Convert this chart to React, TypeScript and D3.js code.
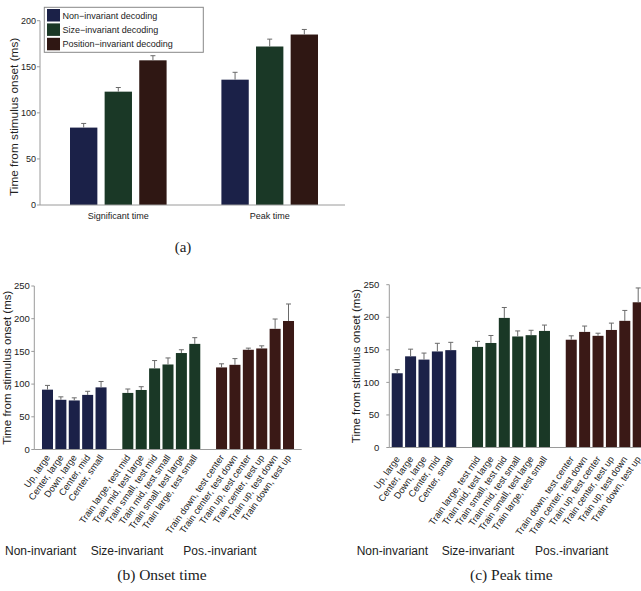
import React from "react";
import * as d3 from "d3";

// ---------- Data ----------
const seriesNames = ["Non\u2212invariant decoding", "Size\u2212invariant decoding", "Position\u2212invariant decoding"];
const seriesColors = ["#1b2148", "#1a3826", "#2f1713"];
const summaryGroups = ["Significant time", "Peak time"];
// per series: [significant, peak]
const summaryMeans = [
  [84, 136],
  [123, 172],
  [157, 185],
];
const summaryErrTops = [
  [88.5, 144],
  [127.5, 180],
  [162, 190.5],
];

const nonInvLabels = ["Up, large", "Center, large", "Down, large", "Center, mid", "Center, small"];
const sizeInvLabels = [
  "Train large, test mid",
  "Train mid, test large",
  "Train small, test mid",
  "Train mid, test small",
  "Train small, test large",
  "Train large, test small",
];
const posInvLabels = [
  "Train down, test center",
  "Train center, test down",
  "Train up, test center",
  "Train center, test up",
  "Train up, test down",
  "Train down, test up",
];
const groupNames = ["Non-invariant", "Size-invariant", "Pos.-invariant"];
const detailColors = ["#1b2148", "#1a3826", "#3a1916"];

// Onset time (b)
const onsetNon = [91.5, 76, 75, 83.5, 95];
const onsetNonErr = [98, 80.5, 79, 89, 104];
const onsetSize = [86.5, 91, 124, 130, 147.5, 161.5];
const onsetSizeErr = [92.5, 96, 136, 140, 152.5, 171];
const onsetPos = [125.5, 129.5, 152.5, 154.5, 184.5, 196.5];
const onsetPosErr = [131, 139, 155, 158.5, 199.5, 222.5];

// Peak time (c)
const peakNon = [114, 140, 135, 147.5, 149.5];
const peakNonErr = [119.5, 151, 145, 160, 161.5];
const peakSize = [154.5, 160.5, 199, 170.5, 172.5, 179];
const peakSizeErr = [163, 172, 215, 179, 180, 188];
const peakPos = [165.5, 177.5, 171.5, 180.5, 194.5, 223];
const peakPosErr = [171.5, 186.5, 175.5, 191, 210.5, 245];

const summaryTicks = [0, 50, 100, 150, 200];
const detailTicks = [0, 50, 100, 150, 200, 250];

const SANS = "'Liberation Sans', Arial, Helvetica, sans-serif";
const SERIF = "'Liberation Serif', 'Times New Roman', serif";
const AXIS = "#9a9a9a";
const ERR = "#6a6a6a";
const TXT = "#222";

// ---------- Panel (a) ----------
function SummaryPanel() {
  const y = d3.scaleLinear().domain([0, 200]).range([205, 20.7]);
  const x0 = d3.scaleBand<string>().domain(summaryGroups).range([42, 346]).paddingInner(0.362).paddingOuter(0.185);
  const x1 = d3.scaleBand<string>().domain(seriesNames).range([0, x0.bandwidth()]).paddingInner(0.21).paddingOuter(0);
  const axisX = 40;
  return (
    <g>
      {seriesNames.map((s, si) =>
        summaryGroups.map((g, gi) => {
          const bx = (x0(g) as number) + (x1(s) as number);
          const cx = bx + x1.bandwidth() / 2;
          const v = summaryMeans[si][gi];
          const e = summaryErrTops[si][gi];
          return (
            <g key={s + g}>
              <rect x={bx} y={y(v)} width={x1.bandwidth()} height={y(0) - y(v)} fill={seriesColors[si]} />
              <line x1={cx} x2={cx} y1={y(v)} y2={y(e)} stroke={ERR} strokeWidth={1} />
              <line x1={cx - 2.5} x2={cx + 2.5} y1={y(e)} y2={y(e)} stroke={ERR} strokeWidth={1} />
            </g>
          );
        })
      )}
      <line x1={axisX} x2={axisX} y1={y(200)} y2={y(0)} stroke={AXIS} strokeWidth={1} />
      <line x1={axisX} x2={345} y1={y(0)} y2={y(0)} stroke={AXIS} strokeWidth={1} />
      {summaryTicks.map((t) => (
        <g key={t}>
          <line x1={axisX - 3} x2={axisX} y1={y(t)} y2={y(t)} stroke={AXIS} />
          <text x={axisX - 4} y={y(t) + 3} fontSize={9} textAnchor="end" fill={TXT} fontFamily={SANS}>
            {t}
          </text>
        </g>
      ))}
      {summaryGroups.map((g) => (
        <text key={g} x={(x0(g) as number) + x0.bandwidth() / 2} y={219} fontSize={9} textAnchor="middle" fill={TXT} fontFamily={SANS}>
          {g}
        </text>
      ))}
      <text
        transform={`translate(18,${(y(0) + y(200)) / 2 + 4}) rotate(-90)`}
        fontSize={11.8}
        textAnchor="middle"
        fill={TXT}
        fontFamily={SANS}
      >
        Time from stimulus onset (ms)
      </text>
      {/* legend */}
      <rect x={44.3} y={7.3} width={159} height={45} fill="white" stroke="#888" strokeWidth={1} />
      {seriesNames.map((s, i) => (
        <g key={s}>
          <rect x={47} y={9 + i * 14.4} width={13} height={12.5} fill={seriesColors[i]} />
          <text x={62.5} y={18.5 + i * 14.4} fontSize={9} fill={TXT} fontFamily={SANS}>
            {s}
          </text>
        </g>
      ))}
      <text x={183} y={252} fontSize={15} textAnchor="middle" fill={TXT} fontFamily={SERIF}>
        (a)
      </text>
    </g>
  );
}

// ---------- Panels (b),(c) ----------
type DetailProps = {
  axisX: number;
  rangeEnd: number;
  paddingOuter: number;
  y0: number;
  y250: number;
  labelGap: number;
  labelDy: number;
  yLabelX: number;
  nonV: number[];
  nonE: number[];
  sizeV: number[];
  sizeE: number[];
  posV: number[];
  posE: number[];
  groupLabelX: number[];
  caption: string;
  captionX: number;
};

function DetailPanel(p: DetailProps) {
  const slots: { key: string; label: string | null; v: number; e: number; c: number }[] = [];
  nonInvLabels.forEach((l, i) => slots.push({ key: "n" + i, label: l, v: p.nonV[i], e: p.nonE[i], c: 0 }));
  slots.push({ key: "gap1", label: null, v: 0, e: 0, c: -1 });
  sizeInvLabels.forEach((l, i) => slots.push({ key: "s" + i, label: l, v: p.sizeV[i], e: p.sizeE[i], c: 1 }));
  slots.push({ key: "gap2", label: null, v: 0, e: 0, c: -1 });
  posInvLabels.forEach((l, i) => slots.push({ key: "p" + i, label: l, v: p.posV[i], e: p.posE[i], c: 2 }));

  const x = d3
    .scaleBand<string>()
    .domain(slots.map((s) => s.key))
    .range([p.axisX, p.rangeEnd])
    .paddingInner(0.178)
    .paddingOuter(p.paddingOuter);
  const y = d3.scaleLinear().domain([0, 250]).range([p.y0, p.y250]);
  const bw = x.bandwidth();

  return (
    <g>
      {slots
        .filter((s) => s.label)
        .map((s) => {
          const bx = x(s.key) as number;
          const cx = bx + bw / 2;
          return (
            <g key={s.key}>
              <rect x={bx} y={y(s.v)} width={bw} height={y(0) - y(s.v)} fill={detailColors[s.c]} />
              <line x1={cx} x2={cx} y1={y(s.v)} y2={y(s.e)} stroke={ERR} strokeWidth={1} />
              <line x1={cx - 2.5} x2={cx + 2.5} y1={y(s.e)} y2={y(s.e)} stroke={ERR} strokeWidth={1} />
              <text
                transform={`translate(${cx + 3},${y(0) + p.labelDy}) rotate(-55)`}
                fontSize={9.3}
                textAnchor="end"
                fill={TXT}
                fontFamily={SANS}
              >
                {s.label}
              </text>
            </g>
          );
        })}
      <line x1={p.axisX} x2={p.axisX} y1={y(250)} y2={y(0)} stroke={AXIS} strokeWidth={1} />
      <line x1={p.axisX} x2={p.rangeEnd} y1={y(0)} y2={y(0)} stroke={AXIS} strokeWidth={1} />
      {detailTicks.map((t) => (
        <g key={t}>
          <line x1={p.axisX - 3} x2={p.axisX} y1={y(t)} y2={y(t)} stroke={AXIS} />
          <text x={p.axisX - p.labelGap} y={y(t) + 3.2} fontSize={9.5} textAnchor="end" fill={TXT} fontFamily={SANS}>
            {t}
          </text>
        </g>
      ))}
      <text
        transform={`translate(${p.yLabelX},${(y(0) + y(250)) / 2}) rotate(-90)`}
        fontSize={11.5}
        textAnchor="middle"
        fill={TXT}
        fontFamily={SANS}
      >
        Time from stimulus onset (ms)
      </text>
      {groupNames.map((g, i) => (
        <text key={g} x={p.groupLabelX[i]} y={555} fontSize={12} fill={TXT} fontFamily={SANS}>
          {g}
        </text>
      ))}
      <text x={p.captionX} y={580} fontSize={15.5} textAnchor="middle" fill={TXT} fontFamily={SERIF}>
        {p.caption}
      </text>
    </g>
  );
}

export default function App() {
  return (
    <svg
      width={641}
      height={591}
      viewBox="0 0 641 591"
      style={{ position: "absolute", left: 0, top: 0, background: "white" }}
    >
      <rect x={0} y={0} width={641} height={591} fill="white" />
      <SummaryPanel />
      <DetailPanel
        axisX={34.3}
        rangeEnd={301.7}
        paddingOuter={0.574}
        y0={449.5}
        y250={286}
        labelGap={4.5}
        labelDy={8}
        yLabelX={11}
        nonV={onsetNon}
        nonE={onsetNonErr}
        sizeV={onsetSize}
        sizeE={onsetSizeErr}
        posV={onsetPos}
        posE={onsetPosErr}
        groupLabelX={[5, 90.7, 183.3]}
        caption="(b) Onset time"
        captionX={162}
      />
      <DetailPanel
        axisX={389.3}
        rangeEnd={646.1}
        paddingOuter={0.18}
        y0={447.5}
        y250={284.7}
        labelGap={10}
        labelDy={11.5}
        yLabelX={360}
        nonV={peakNon}
        nonE={peakNonErr}
        sizeV={peakSize}
        sizeE={peakSizeErr}
        posV={peakPos}
        posE={peakPosErr}
        groupLabelX={[356.7, 441.7, 535]}
        caption="(c) Peak time"
        captionX={511.3}
      />
    </svg>
  );
}
